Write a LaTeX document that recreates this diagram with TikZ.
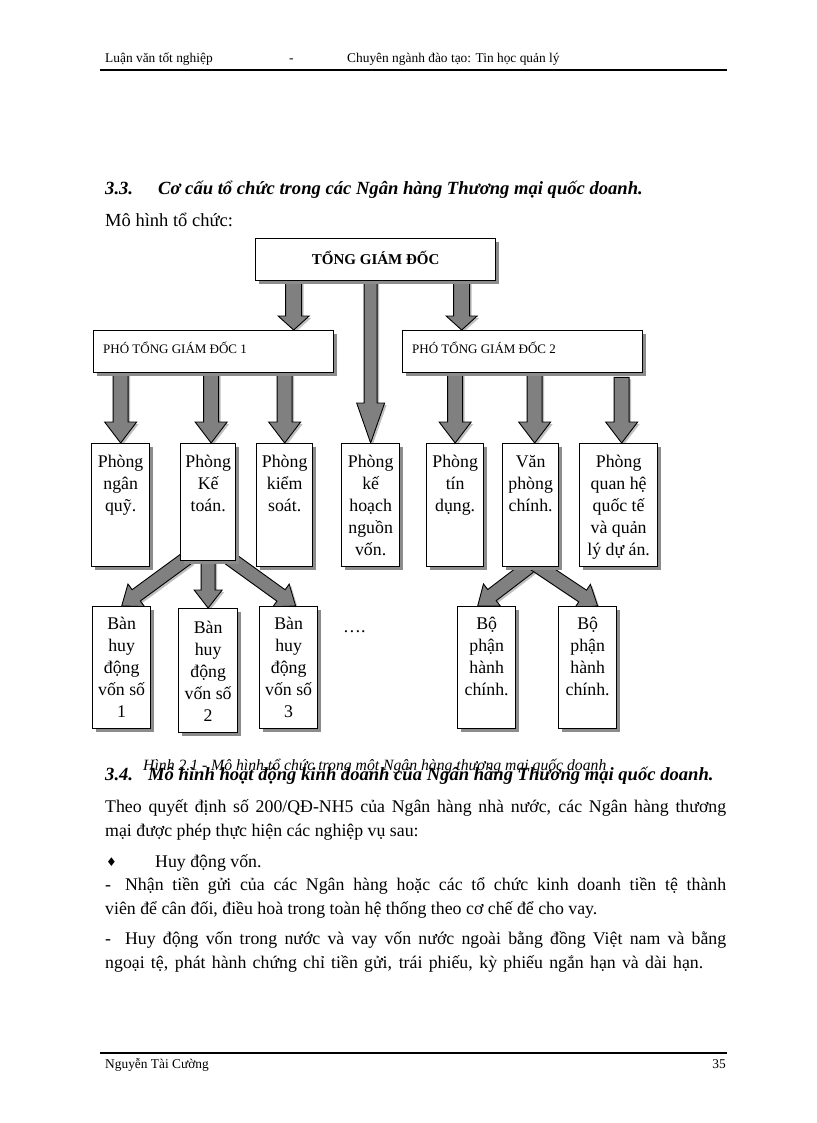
\documentclass[tikz,border=0pt]{standalone}
\usepackage{fontspec}
\setmainfont{Liberation Serif}
\newfontfamily\symfont{DejaVu Sans}
\usetikzlibrary{shadows,backgrounds}

\tikzset{
  box/.style={draw=black, line width=1.3pt, fill=white, inner sep=0pt, anchor=north west,
    drop shadow={shadow xshift=3pt, shadow yshift=-3pt, fill=black!45, opacity=1}},
  arr/.style={fill=black!50, draw=black, line width=0.9pt,
    drop shadow={shadow xshift=2pt, shadow yshift=-2pt, fill=black!25, opacity=1}},
  boxtxt/.style={font=\fontsize{17.8}{22}\selectfont, align=center, anchor=north, inner sep=0pt},
  plain/.style={anchor=base west, inner sep=0pt},
  hdr/.style={plain, font=\fontsize{13.4}{16}\selectfont},
  body/.style={plain, font=\fontsize{17.8}{22}\selectfont},
  head/.style={plain, font=\fontsize{18.6}{23}\selectfont\bfseries\itshape},
  rule/.style={line width=2.6pt, black}
}

% box: name, x1, y1, x2, y2
\newcommand\mkbox[5]{\node[box, minimum width={#4-#2}, minimum height={#5-#3}] (#1) at (#2,#3) {};}
% text in a box: name, offset from top, text
\newcommand\mktext[3]{\node[boxtxt] (#1t) at ([yshift=-#2pt]#1.north) {#3};}
% block arrow: start, end, shaft half width, head half width, head length
\newcommand\barrow[5]{%
  \path (#1); \pgfgetlastxy{\ax}{\ay}%
  \path (#2); \pgfgetlastxy{\bx}{\by}%
  \pgfmathsetmacro\ang{atan2(\by-\ay,\bx-\ax)}%
  \pgfmathsetmacro\len{veclen(\bx-\ax,\by-\ay)}%
  \begin{scope}[shift={(\ax,\ay)}, rotate=\ang]
    \path[arr] (0,-#3) -- ({\len-#5},-#3) -- ({\len-#5},-#4) -- (\len,0)
      -- ({\len-#5},#4) -- ({\len-#5},#3) -- (0,#3) -- cycle;
  \end{scope}}

\begin{document}
\begin{tikzpicture}[x=1pt,y=-1pt]
\useasboundingbox (0,0) rectangle (816,1123);
\begin{pgfonlayer}{background}
  \fill[white] (0,0) rectangle (816,1123);
\end{pgfonlayer}

% header
\node[hdr] (h1) at (105,63) {Luận văn tốt nghiệp};
\node[hdr] (h2) at (289,63) {-};
\node[hdr] (h3) at (347,63) {Chuyên ngành đào tạo: Tin học quản lý};
\draw[rule] (100,70) -- (727,70);

% headings
\node[head] (s33) at (105,195) {3.3.};
\node[head] (s33t) at (158,195) {Cơ cấu tổ chức trong các Ngân hàng Thương mại quốc doanh.};
\node[body, font=\fontsize{18.5}{22}\selectfont] (intro) at (105,226) {Mô hình tổ chức:};

% top boxes
\mkbox{tgd}{255}{238}{495}{280}
\node[font=\fontsize{15}{17}\selectfont\bfseries, inner sep=0pt] (tgdt) at ([yshift=2pt]tgd.center) {TỔNG GIÁM ĐỐC};
\mkbox{p1}{93}{330}{333}{372}
\node[font=\fontsize{13}{15}\selectfont, anchor=west, inner sep=0pt] (p1t) at (103,348) {PHÓ TỔNG GIÁM ĐỐC 1};
\mkbox{p2}{402}{330}{642}{372}
\node[font=\fontsize{13}{15}\selectfont, anchor=west, inner sep=0pt] (p2t) at (412,348) {PHÓ TỔNG GIÁM ĐỐC 2};

% middle row
\mkbox{b1}{91}{443}{149}{566}
\mkbox{b2}{180}{443}{235}{560}
\mkbox{b3}{256}{443}{312}{566}
\mkbox{b4}{341}{443}{399}{566}
\mkbox{b5}{426}{443}{483}{566}
\mkbox{b6}{502}{443}{558}{566}
\mkbox{b7}{579}{443}{657}{566}
\mktext{b1}{12}{Phòng\\ngân\\quỹ.}
\mktext{b2}{12}{Phòng\\Kế\\toán.}
\mktext{b3}{12}{Phòng\\kiểm\\soát.}
\mktext{b4}{12}{Phòng\\kế\\hoạch\\nguồn\\vốn.}
\mktext{b5}{12}{Phòng\\tín\\dụng.}
\mktext{b6}{12}{Văn\\phòng\\chính.}
\mktext{b7}{12}{Phòng\\quan hệ\\quốc tế\\và quản\\lý dự án.}

% bottom row
\mkbox{c1}{92}{606}{150}{728}
\mkbox{c2}{178}{608}{237}{732}
\mkbox{c3}{259}{606}{317}{728}
\mkbox{d1}{457}{606}{515}{728}
\mkbox{d2}{558}{606}{616}{728}
\mktext{c1}{11}{Bàn\\huy\\động\\vốn số\\1}
\mktext{c2}{13}{Bàn\\huy\\động\\vốn số\\2}
\mktext{c3}{11}{Bàn\\huy\\động\\vốn số\\3}
\mktext{d1}{11}{Bộ\\phận\\hành\\chính.}
\mktext{d2}{11}{Bộ\\phận\\hành\\chính.}
\node[body] (dots) at (343,632) {….};

% arrows (behind the boxes)
\begin{pgfonlayer}{background}
  \barrow{[xshift=-82pt]tgd.south}{[xshift=80pt]p1.north}{8}{15.5}{14}
  \barrow{tgd.south -| b4.north}{b4.north}{6.5}{14}{40}
  \barrow{[xshift=86pt]tgd.south}{[xshift=-61pt]p2.north}{8}{15.5}{14}
  \barrow{b1.north |- p1.south}{b1.north}{7.5}{16}{21}
  \barrow{[xshift=3pt]b2.north |- p1.south}{[xshift=3pt]b2.north}{7.5}{16}{21}
  \barrow{b3.north |- p1.south}{b3.north}{7.5}{16}{21}
  \barrow{b5.north |- p2.south}{b5.north}{7.5}{16}{21}
  \barrow{[xshift=4pt]b6.north |- p2.south}{[xshift=4pt]b6.north}{7.5}{16}{21}
  \barrow{[xshift=3pt,yshift=-4pt]b7.north |- p2.south}{[xshift=3pt]b7.north}{7.5}{16}{21}
  \barrow{[xshift=-20pt,yshift=4pt]b2.south}{c1.north}{7}{14}{18}
  \barrow{[yshift=2pt]b2.south}{c2.north}{7}{14}{18}
  \barrow{[xshift=20pt,yshift=4pt]b2.south}{[xshift=7pt]c3.north}{7}{14}{18}
  \barrow{[xshift=3pt,yshift=4pt]b6.south}{[xshift=-9pt]d1.north}{7}{14}{18}
  \barrow{[xshift=3pt,yshift=4pt]b6.south}{[xshift=10pt]d2.north}{7}{14}{18}
\end{pgfonlayer}

% caption and section 3.4
\node[plain, font=\fontsize{15.7}{18}\selectfont\itshape] (cap) at (143,770) {Hình 2.1 - Mô hình tổ chức trong một Ngân hàng thương mại quốc doanh};
\node[head] (s34) at (105,780) {3.4.};
\node[head] (s34t) at (148,780) {Mô hình hoạt động kinh doanh của Ngân hàng Thương mại quốc doanh.};

% body
\node[body] (l1) at (105,812) {\makebox[621pt][s]{Theo quyết định số 200/QĐ-NH5 của Ngân hàng nhà nước, các Ngân hàng thương}};
\node[body] (l2) at (105,836) {mại được phép thực hiện các nghiệp vụ sau:};
\node[plain, font=\symfont\fontsize{12}{14}\selectfont] (bul) at (106,866) {♦};
\node[body] (l3) at (155,867) {Huy động vốn.};
\node[body] (l4) at (105,890) {\makebox[621pt][s]{-\hspace{14pt}Nhận tiền gửi của các Ngân hàng hoặc các tổ chức kinh doanh tiền tệ thành}};
\node[body] (l5) at (105,914) {viên để cân đối, điều hoà trong toàn hệ thống theo cơ chế để cho vay.};
\node[body] (l6) at (105,944) {\makebox[621pt][s]{-\hspace{14pt}Huy động vốn trong nước và vay vốn nước ngoài bằng đồng Việt nam và bằng}};
\node[body] (l7) at (105,968) {\makebox[598pt][s]{ngoại tệ, phát hành chứng chỉ tiền gửi, trái phiếu, kỳ phiếu ngắn hạn và dài hạn.}};

% footer
\draw[rule] (100,1053) -- (727,1053);
\node[hdr] (f1) at (105,1068) {Nguyễn Tài Cường};
\node[hdr, anchor=base east] (f2) at (726,1068) {35};
\end{tikzpicture}
\end{document}
